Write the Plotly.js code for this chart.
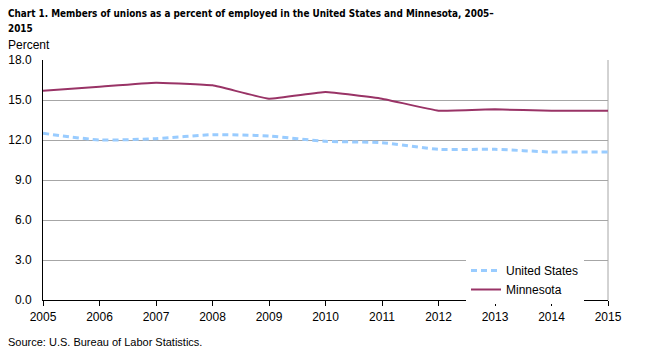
<!DOCTYPE html>
<html>
<head>
<meta charset="utf-8">
<script src="https://cdn.plot.ly/plotly-3.0.1.min.js"></script>
<style>html,body{margin:0;padding:0;background:#fff;}#chart{width:650px;height:353px;}</style>
</head>
<body>
<div id="chart"></div>
<script>
const years = [2005, 2006, 2007, 2008, 2009, 2010, 2011, 2012, 2013, 2014, 2015];
const unitedStates = [12.5, 12.0, 12.1, 12.4, 12.3, 11.9, 11.8, 11.3, 11.3, 11.1, 11.1];
const minnesota = [15.7, 16.0, 16.3, 16.1, 15.1, 15.6, 15.1, 14.2, 14.3, 14.2, 14.2];
const yTicks = [0, 3, 6, 9, 12, 15, 18];
const titleLines = ['Chart 1. Members of unions as a percent of employed in the United States and Minnesota, 2005–', '2015'];

const F = 'Arial, "Liberation Sans", sans-serif';
const FN = '"DejaVu Sans Condensed", sans-serif';
const W = 650, H = 353, L = 43, R = 42, T = 60, B = 53;
const pw = W - L - R, ph = H - T - B;

const traces = [
  {x: years, y: unitedStates, name: 'United States', type: 'scatter', mode: 'lines',
   line: {color: '#99ccff', width: 3, dash: '6px,4px', shape: 'spline', smoothing: 0.5}},
  {x: years, y: minnesota, name: 'Minnesota', type: 'scatter', mode: 'lines',
   line: {color: '#993366', width: 2, shape: 'spline', smoothing: 0.3}}
];

const px2x = px => (px - L) / pw;
const px2y = py => (H - B - py) / ph;

const layout = {
  width: W, height: H,
  margin: {l: L, r: R, t: T, b: B},
  paper_bgcolor: '#fff', plot_bgcolor: '#fff',
  font: {family: F, size: 12, color: '#000'},
  showlegend: true,
  xaxis: {
    range: [2005, 2015], tickvals: years, ticktext: years.map(String),
    showgrid: false, zeroline: false, showline: true, linecolor: '#000', linewidth: 1,
    ticks: 'outside', ticklen: 5, tickcolor: '#000', tickfont: {family: F, size: 12, color: '#000'},
    ticklabelstandoff: 1, fixedrange: true
  },
  yaxis: {
    range: [0, 18], tickvals: yTicks, tickformat: '.1f',
    showgrid: true, gridcolor: '#a6a6a6', gridwidth: 1, zeroline: false,
    showline: true, linecolor: '#000', linewidth: 1, ticks: '',
    tickfont: {family: F, size: 12, color: '#000'}, ticklabelstandoff: 8,
    fixedrange: true
  },
  legend: {
    x: px2x(466), y: px2y(256), xanchor: 'left', yanchor: 'top',
    bgcolor: '#fff', borderwidth: 0, font: {family: F, size: 12, color: '#000'},
    tracegroupgap: 0, itemwidth: 30
  },
  shapes: [
    {type: 'line', xref: 'paper', yref: 'paper', x0: 1, x1: 1, y0: 0, y1: 1,
     line: {color: '#a6a6a6', width: 1}, layer: 'below'}
  ],
  annotations: [
    {text: '<b>' + titleLines[0] + '</b>', xref: 'paper', yref: 'paper', x: px2x(6), y: px2y(13),
     xanchor: 'left', yanchor: 'middle', showarrow: false, font: {family: FN, size: 9.9, color: '#000'}},
    {text: '<b>' + titleLines[1] + '</b>', xref: 'paper', yref: 'paper', x: px2x(6), y: px2y(28),
     xanchor: 'left', yanchor: 'middle', showarrow: false, font: {family: FN, size: 9.9, color: '#000'}},
    {text: 'Percent', xref: 'paper', yref: 'paper', x: px2x(6), y: px2y(45),
     xanchor: 'left', yanchor: 'middle', showarrow: false, font: {family: F, size: 12, color: '#000'}},
    {text: 'Source: U.S. Bureau of Labor Statistics.', xref: 'paper', yref: 'paper',
     x: px2x(6), y: px2y(342), xanchor: 'left', yanchor: 'middle', showarrow: false,
     font: {family: F, size: 11, color: '#000'}}
  ]
};

Plotly.newPlot('chart', traces, layout, {displayModeBar: false, staticPlot: true});
</script>
</body>
</html>
